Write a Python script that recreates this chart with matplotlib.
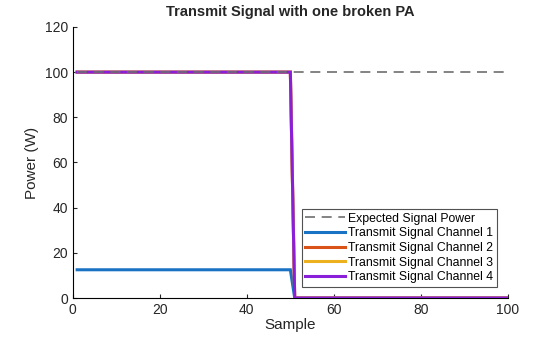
import numpy as np
import matplotlib
matplotlib.use('Agg')
import matplotlib.pyplot as plt

plt.rcParams.update({
    'font.family': ['Liberation Sans', 'DejaVu Sans'],
    'font.size': 10,
    'xtick.direction': 'in',
    'ytick.direction': 'in',
})

samples = np.arange(1, 101)
expected_power = [100.0] * 100
ch1 = [12.5] * 50 + [0.0] * 50
ch2 = [100.0] * 50 + [0.0] * 50
ch3 = [100.0] * 50 + [0.0] * 50
ch4 = [100.0] * 50 + [0.0] * 50

labels = ['Transmit Signal Channel 1', 'Transmit Signal Channel 2',
          'Transmit Signal Channel 3', 'Transmit Signal Channel 4']
colors = ['#1A72C4', '#D95319', '#EDB120', '#8A1FDA']

fig = plt.figure(figsize=(5.6, 3.37), dpi=100)
ax = fig.add_axes([0.13, 0.1157, 0.777, 0.8043])

ax.plot(samples, expected_power, '--', color='#6e6e6e', linewidth=1.2,
        dashes=(6, 4), label='Expected Signal Power', zorder=5)
for y, c, lab in zip([ch1, ch2, ch3, ch4], colors, labels):
    ax.plot(samples, y, color=c, linewidth=2.2, label=lab, zorder=3,
            solid_joinstyle='miter')

ax.set_xlim(0, 100)
ax.set_ylim(0, 120)
ax.set_xticks(range(0, 101, 20))
ax.set_yticks(range(0, 121, 20))
ax.spines['top'].set_visible(False)
ax.spines['right'].set_visible(False)
ax.tick_params(labelsize=10, colors='#262626', length=3)
ax.set_xlabel('Sample', fontsize=11, color='#262626', labelpad=1)
ax.set_ylabel('Power (W)', fontsize=11, color='#262626')
ax.set_title('Transmit Signal with one broken PA', fontsize=10.5,
             fontweight='bold', color='#262626', pad=8)

leg = ax.legend(loc='lower right', fontsize=8.8, frameon=True, fancybox=False,
                borderpad=0.3, labelspacing=0.22, handlelength=3.2,
                handletextpad=0.3, borderaxespad=0.9)
leg.get_frame().set_edgecolor('#262626')
leg.get_frame().set_linewidth(0.8)
leg.set_zorder(10)

fig.savefig('out.png', dpi=100)
